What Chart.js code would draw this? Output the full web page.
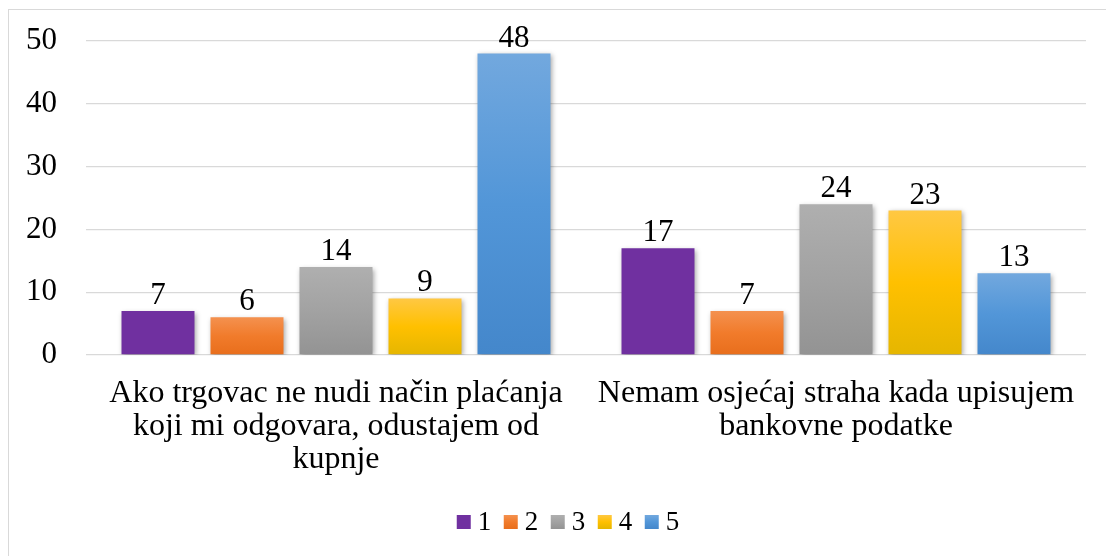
<!DOCTYPE html>
<html>
<head>
<meta charset="utf-8">
<script src="https://cdn.jsdelivr.net/npm/chart.js@4"></script>
<style>
  html, body { margin: 0; padding: 0; background: #fff; overflow: hidden; }
  #wrap { position: relative; width: 1106px; height: 556px; }
  #frame { position: absolute; left: 8px; top: 9px; width: 1120px; height: 580px; border: 1.5px solid #d9d9d9; }
  canvas { position: absolute; left: 0; top: 0; }
</style>
</head>
<body>
<div id="wrap">
  <div id="frame"></div>
  <canvas id="chart" width="1106" height="556"></canvas>
</div>
<script>
const categories = [
  ['Ako trgovac ne nudi način plaćanja', 'koji mi odgovara, odustajem od', 'kupnje'],
  ['Nemam osjećaj straha kada upisujem', 'bankovne podatke']
];
const seriesNames = ['1', '2', '3', '4', '5'];
const series1 = [7, 17];
const series2 = [6, 7];
const series3 = [14, 24];
const series4 = [9, 23];
const series5 = [48, 13];
const yMin = 0, yMax = 50, yStep = 10;

const FONT = "'Liberation Serif', 'Times New Roman', serif";

// gradient stops top -> bottom for each series
const fills = [
  ['#7030a0', '#7030a0'],
  ['#f4914f', '#f17b2b', '#e86e1c'],
  ['#afafaf', '#a2a2a2', '#939393'],
  ['#ffc843', '#ffc000', '#e5b600'],
  ['#72a8de', '#5296d8', '#4487cb']
];

function gradient(c, stops, top, bottom) {
  const g = c.createLinearGradient(0, top, 0, bottom);
  stops.forEach((s, i) => g.addColorStop(i / (stops.length - 1), s));
  return g;
}

function barFill(stops) {
  return (ctx) => {
    const chart = ctx.chart;
    if (!chart.chartArea || ctx.type !== 'data' || !chart.scales.y) return stops[1];
    const y = chart.scales.y;
    return gradient(chart.ctx, stops, y.getPixelForValue(ctx.raw), y.getPixelForValue(0));
  };
}

const allSeries = [series1, series2, series3, series4, series5];

const barExtras = {
  id: 'barExtras',
  beforeDatasetsDraw(chart) {
    const c = chart.ctx;
    c.save();
    c.shadowColor = 'rgba(0,0,0,0.35)';
    c.shadowBlur = 5;
    c.shadowOffsetX = 1.5;
    c.shadowOffsetY = 1.5;
  },
  afterDatasetsDraw(chart) {
    const c = chart.ctx;
    c.restore();
    c.save();
    c.font = '31px ' + FONT;
    c.fillStyle = '#000';
    c.textAlign = 'center';
    c.textBaseline = 'alphabetic';
    chart.data.datasets.forEach((ds, i) => {
      chart.getDatasetMeta(i).data.forEach((bar, j) => {
        c.fillText(String(ds.data[j]), bar.x, bar.y - 7);
      });
    });
    c.restore();
  },
  // legend drawn here so the box/text gap matches the original
  afterDraw(chart) {
    const c = chart.ctx;
    const box = 14, gap = 7, between = 12.5;
    c.save();
    c.font = '27px ' + FONT;
    c.textBaseline = 'middle';
    c.textAlign = 'left';
    const items = chart.data.datasets.map((ds, i) => ({ text: ds.label, stops: fills[i], w: c.measureText(ds.label).width }));
    const total = items.reduce((s, it) => s + box + gap + it.w, 0) + between * (items.length - 1);
    let x = (chart.width + 30) / 2 - total / 2;
    const cy = 522;
    items.forEach(it => {
      c.fillStyle = gradient(c, it.stops, cy - box / 2, cy + box / 2);
      c.fillRect(x, cy - box / 2, box, box);
      c.fillStyle = '#000';
      c.fillText(it.text, x + box + gap, cy + 1);
      x += box + gap + it.w + between;
    });
    c.restore();
  }
};

new Chart(document.getElementById('chart'), {
  type: 'bar',
  data: {
    labels: categories,
    datasets: allSeries.map((d, i) => ({
      label: seriesNames[i],
      data: d,
      backgroundColor: barFill(fills[i]),
      borderWidth: 0,
      categoryPercentage: 0.89,
      barPercentage: 0.82
    }))
  },
  options: {
    responsive: false,
    animation: false,
    layout: { padding: { left: 0, right: 20, top: 41, bottom: 54 } },
    scales: {
      x: {
        grid: { display: false },
        border: { display: false },
        ticks: {
          color: '#000',
          font: { family: FONT, size: 32, lineHeight: 1.03 },
          padding: 14,
          maxRotation: 0,
          autoSkip: false
        },
        afterFit(scale) { scale.height = 147; }
      },
      y: {
        min: yMin,
        max: yMax,
        ticks: {
          stepSize: yStep,
          color: '#000',
          font: { family: FONT, size: 31 },
          padding: 29
        },
        grid: { color: '#d9d9d9', lineWidth: 1.3, drawTicks: false },
        border: { display: false },
        afterFit(scale) {
          scale.width = 86;
          scale.paddingTop = 0;
          scale.paddingBottom = 0;
        }
      }
    },
    plugins: {
      tooltip: { enabled: false },
      legend: { display: false }
    }
  },
  plugins: [barExtras]
});
</script>
</body>
</html>
